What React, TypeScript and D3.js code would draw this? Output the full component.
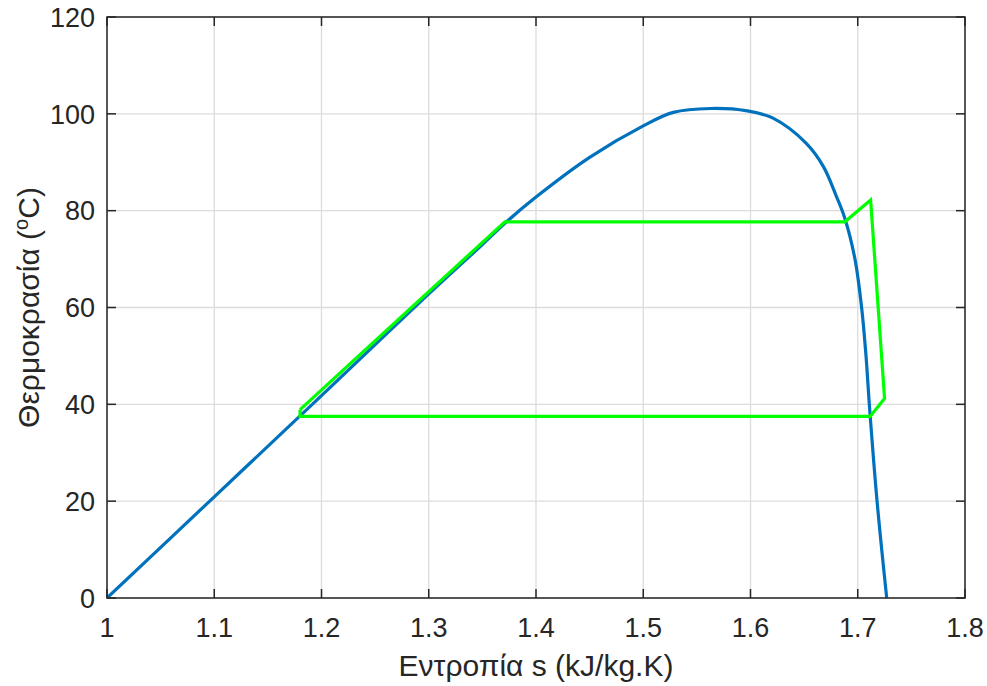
import React from "react";
import * as d3 from "d3";

const xTicks = [1, 1.1, 1.2, 1.3, 1.4, 1.5, 1.6, 1.7, 1.8];
const yTicks = [0, 20, 40, 60, 80, 100, 120];

// saturation dome (blue)
const domeS = [1.0, 1.1, 1.18, 1.2, 1.3, 1.35, 1.371, 1.4, 1.45, 1.5, 1.528, 1.563, 1.597, 1.621, 1.652, 1.668, 1.68, 1.688, 1.6974, 1.7036, 1.7077, 1.7108, 1.718, 1.727];
const domeT = [0, 20.9, 37.6, 41.8, 62.8, 73.0, 77.4, 82.8, 91.0, 97.5, 100.3, 101.1, 100.6, 99.1, 93.9, 89.1, 83.0, 78.4, 70.0, 60, 50, 40, 20, 0];

// refrigeration cycle (green)
const cycleS = [1.18, 1.371, 1.688, 1.712, 1.725, 1.7115, 1.18, 1.18];
const cycleT = [38.9, 77.7, 77.7, 82.2, 41.2, 37.5, 37.5, 38.9];

const W = 987, H = 686;
const L = 107, R = 965, T = 17, B = 598;
const FONT = "'Liberation Sans', Arial, Helvetica, sans-serif";

export default function App() {
  const x = d3.scaleLinear().domain([1, 1.8]).range([L, R]);
  const y = d3.scaleLinear().domain([0, 120]).range([B, T]);
  const domeLine = d3.line<[number, number]>().x(d => x(d[0])).y(d => y(d[1])).curve(d3.curveCatmullRom.alpha(0.5));
  const line = d3.line<[number, number]>().x(d => x(d[0])).y(d => y(d[1]));
  const dome = domeLine(domeS.map((s, i) => [s, domeT[i]] as [number, number])) || "";
  const cycle = line(cycleS.map((s, i) => [s, cycleT[i]] as [number, number])) || "";
  const axisColor = "#262626";
  const tickLen = 9;
  const tickFont = 27;
  return (
    <svg width={W} height={H} style={{ position: "absolute", left: 0, top: 0, background: "#fff" }} fontFamily={FONT}>
      <rect x={0} y={0} width={W} height={H} fill="#fff" />
      {xTicks.map(t => (
        <line key={"gx" + t} x1={x(t)} x2={x(t)} y1={T} y2={B} stroke="#dcdcdc" strokeWidth={1.3} />
      ))}
      {yTicks.map(t => (
        <line key={"gy" + t} x1={L} x2={R} y1={y(t)} y2={y(t)} stroke="#dcdcdc" strokeWidth={1.3} />
      ))}
      <defs>
        <clipPath id="plotclip">
          <rect x={L} y={T} width={R - L} height={B - T} />
        </clipPath>
      </defs>
      <g clipPath="url(#plotclip)">
        <path d={dome} fill="none" stroke="#0072BD" strokeWidth={3.2} strokeLinejoin="round" />
        <path d={cycle} fill="none" stroke="#00FF00" strokeWidth={3.2} strokeLinejoin="miter" />
      </g>
      {xTicks.map(t => (
        <g key={"tx" + t}>
          <line x1={x(t)} x2={x(t)} y1={B} y2={B - tickLen} stroke={axisColor} strokeWidth={1.5} />
          <line x1={x(t)} x2={x(t)} y1={T} y2={T + tickLen} stroke={axisColor} strokeWidth={1.5} />
          <text x={x(t)} y={637} textAnchor="middle" fontSize={tickFont} fill={axisColor}>{String(t)}</text>
        </g>
      ))}
      {yTicks.map(t => (
        <g key={"ty" + t}>
          <line x1={L} x2={L + tickLen} y1={y(t)} y2={y(t)} stroke={axisColor} strokeWidth={1.5} />
          <line x1={R} x2={R - tickLen} y1={y(t)} y2={y(t)} stroke={axisColor} strokeWidth={1.5} />
          <text x={95} y={y(t) + 9.7} textAnchor="end" fontSize={tickFont} fill={axisColor}>{String(t)}</text>
        </g>
      ))}
      <rect x={L} y={T} width={R - L} height={B - T} fill="none" stroke={axisColor} strokeWidth={1.5} />
      <text x={(L + R) / 2} y={676} textAnchor="middle" fontSize={30} fill={axisColor}>Εντροπία s (kJ/kg.K)</text>
      <text transform={`translate(39,${(T + B) / 2}) rotate(-90)`} textAnchor="middle" fontSize={30} fill={axisColor}>
        Θερμοκρασία (<tspan fontSize={20} dy={-11}>o</tspan><tspan dy={11}>C)</tspan>
      </text>
    </svg>
  );
}
